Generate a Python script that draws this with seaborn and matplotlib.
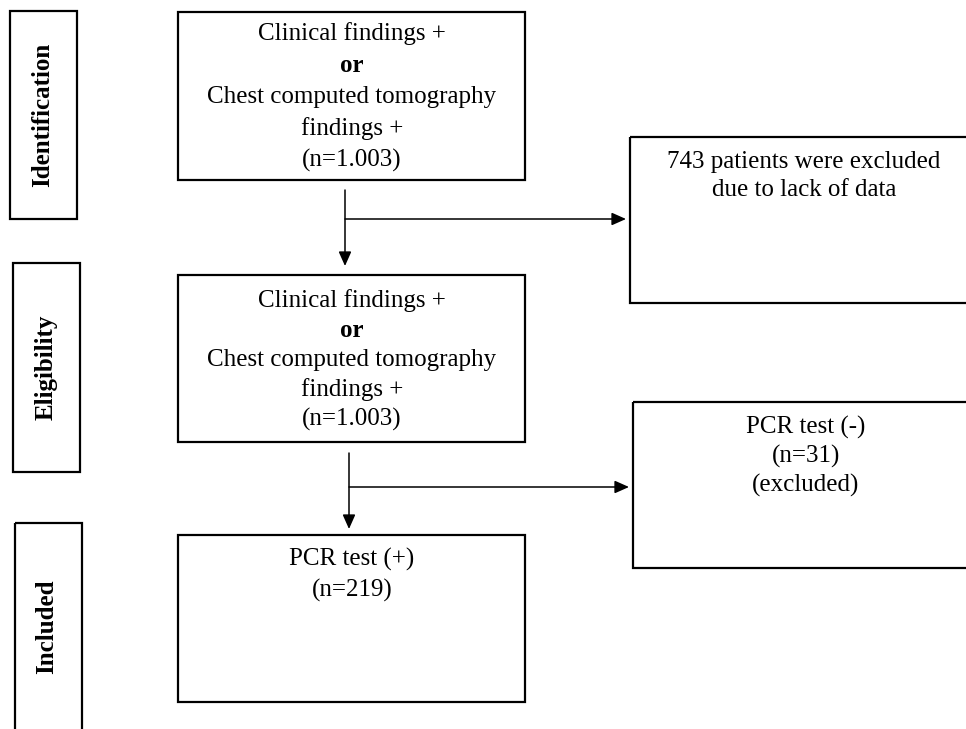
import matplotlib
matplotlib.use("Agg")
import matplotlib.pyplot as plt
from matplotlib.patches import Rectangle
import seaborn as sns

# flow chart content
stages = ['Identification', 'Eligibility', 'Included']
n_screened = '1.003'
n_eligible = '1.003'
n_no_data = 743
n_pcr_neg = 31
n_pcr_pos = 219

screen_lines = ['Clinical findings +', 'or', 'Chest computed tomography',
                'findings +', '(n={})']
screen_bold = [False, True, False, False, False]

sns.set_style("white")
plt.rcParams['font.family'] = ['Liberation Serif', 'DejaVu Serif']
plt.rcParams['text.color'] = 'black'

fig = plt.figure(figsize=(9.66, 7.29), dpi=100)
ax = fig.add_axes([0, 0, 1, 1])
ax.set_xlim(0, 966)
ax.set_ylim(729, 0)
ax.axis('off')

FS = 18


def box(x0, y0, x1, y1):
    ax.add_patch(Rectangle((x0, y0), x1 - x0, y1 - y0, fill=False,
                           edgecolor='black', linewidth=1.6, clip_on=True))


def arrow(x0, y0, x1, y1):
    ax.annotate('', xy=(x1, y1), xytext=(x0, y0),
                arrowprops=dict(arrowstyle='-|>,head_length=0.36,head_width=0.16',
                                color='black', lw=1.1,
                                mutation_scale=24, shrinkA=0, shrinkB=0))


# stage boxes on the left
stage_boxes = [(10, 11, 77, 219), (13, 263, 80, 472), (15, 523, 82, 760)]
stage_centers = [(43, 115), (46, 367), (47, 627)]
for label, b, c in zip(stages, stage_boxes, stage_centers):
    box(*b)
    ax.text(c[0], c[1], label, rotation=90, ha='center', va='center',
            fontsize=FS, fontweight='bold')

# main column
for (top, bottom, first, step, n) in [(12, 180, 34, 31.5, n_screened),
                                      (275, 442, 301, 29.5, n_eligible)]:
    box(178, top, 525, bottom)
    for i, (line, bold) in enumerate(zip(screen_lines, screen_bold)):
        ax.text(352, first + i * step, line.format(n), ha='center',
                va='center', fontsize=FS,
                fontweight='bold' if bold else 'normal')

box(178, 535, 525, 702)
ax.text(352, 559, 'PCR test (+)', ha='center', va='center', fontsize=FS)
ax.text(352, 590, '(n={})'.format(n_pcr_pos), ha='center', va='center',
        fontsize=FS)

# exclusion boxes on the right
box(630, 137, 978, 303)
ax.text(804, 162, '{} patients were excluded'.format(n_no_data),
        ha='center', va='center', fontsize=FS)
ax.text(804, 190, 'due to lack of data', ha='center', va='center',
        fontsize=FS)

box(633, 402, 980, 568)
for i, line in enumerate(['PCR test (-)', '(n={})'.format(n_pcr_neg),
                          '(excluded)']):
    ax.text(806, 427 + i * 29, line, ha='center', va='center', fontsize=FS)

# connectors
arrow(345, 190, 345, 266)
arrow(345, 219, 626, 219)
arrow(349, 453, 349, 529)
arrow(349, 487, 629, 487)

fig.savefig('out.png', dpi=100)
